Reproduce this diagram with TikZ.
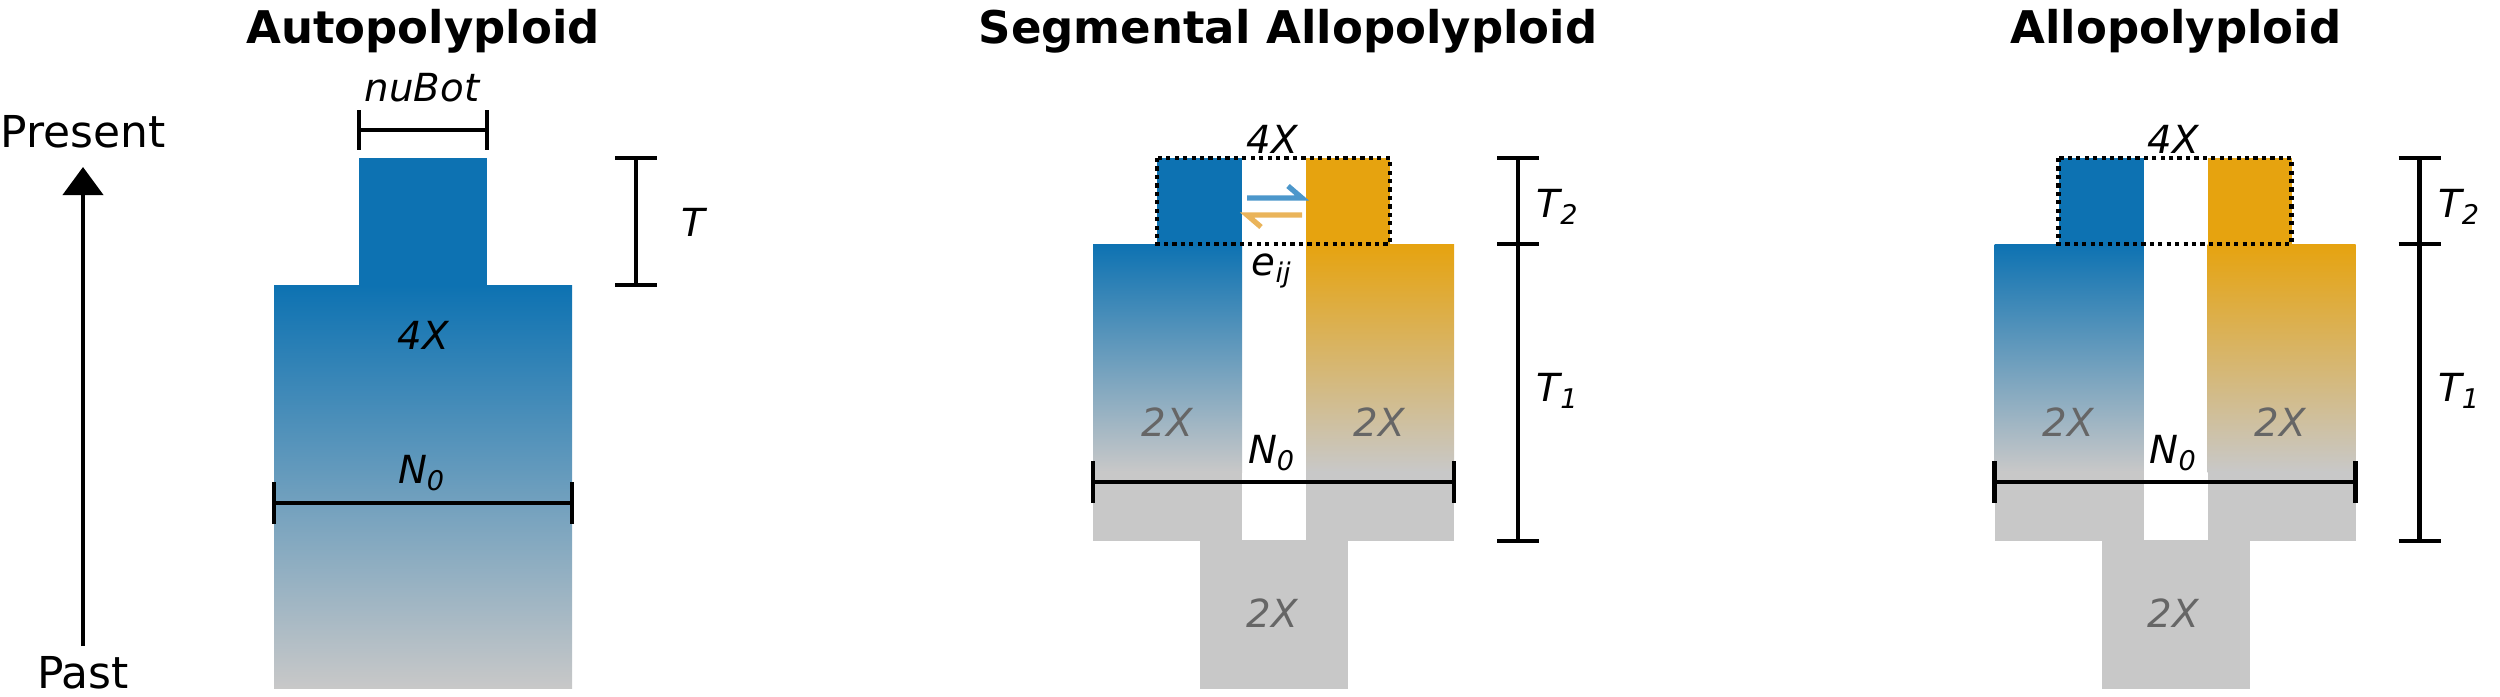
\documentclass[tikz,border=0pt]{standalone}
\usepackage{fontspec}
\setmainfont{DejaVu Sans}
\usetikzlibrary{arrows.meta}
\definecolor{cblue}{HTML}{0D72B2}
\definecolor{corange}{HTML}{E6A30F}
\definecolor{cgray}{HTML}{C8C8C8}
\definecolor{lgray}{HTML}{666666}
\definecolor{ablue}{HTML}{4C97CB}
\definecolor{aorange}{HTML}{EAB45A}
\newcommand{\mkhbar}[4]{%
  \draw[bar] (#1,#3) -- (#2,#3);
  \draw[bar] (#1,#3-#4) -- (#1,#3+#4);
  \draw[bar] (#2,#3-#4) -- (#2,#3+#4);}
\newcommand{\mkvbar}[4]{%
  \draw[bar] (#1,#2) -- (#1,#3);
  \draw[bar] (#1-#4,#2) -- (#1+#4,#2);
  \draw[bar] (#1-#4,#3) -- (#1+#4,#3);}
\newcommand{\allopanel}[1]{%
  % top 4X blocks
  \fill[cblue] (1157,158) rectangle (1242,245);
  \fill[corange] (1306,158) rectangle (1390,245);
  % big 2X blocks
  \shade[top color=cblue,bottom color=cgray] (1093,244) rectangle (1242,472);
  \fill[cgray] (1093,471) rectangle (1242,541);
  \shade[top color=corange,bottom color=cgray] (1306,244) rectangle (1454,472);
  \fill[cgray] (1306,471) rectangle (1454,541);
  % ancestral 2X
  \fill[cgray] (1200,540) rectangle (1348,689);
  \draw[dots] (1157,158) rectangle (1390,244);
  \node[lab] (#1top) at (1272,139) {4X};
  \node[glab] (#1left) at (1167,422) {2X};
  \node[glab] (#1right) at (1379,422) {2X};
  \node[lab] (#1N) at (1272,453) {N\textsubscript{0}};
  \node[glab] (#1anc) at (1272,613) {2X};
  \mkhbar{1093}{1454}{482}{21}
  \draw[bar] (1518,158) -- (1518,541);
  \draw[bar] (1497,158) -- (1539,158);
  \draw[bar] (1497,244) -- (1539,244);
  \draw[bar] (1497,541) -- (1539,541);
  \node[lab] (#1Ttwo) at (1558,207) {T\textsubscript{2}};
  \node[lab] (#1Tone) at (1558,391) {T\textsubscript{1}};
}
\begin{document}
\begin{tikzpicture}[x=0.01cm,y=-0.01cm,
  bar/.style={line width=1.2pt},
  lab/.style={font=\fontsize{11}{13}\selectfont\itshape, inner sep=0},
  glab/.style={lab, text=lgray},
  ttl/.style={font=\fontsize{12.8}{15}\selectfont\bfseries, inner sep=0, anchor=base},
  tim/.style={font=\fontsize{12.5}{15}\selectfont, inner sep=0, anchor=base},
  dots/.style={line width=1.3pt, dash pattern=on 1.2pt off 1.2pt},
  harp/.style={line width=1.5pt, line join=miter},
]
\useasboundingbox (0,0) rectangle (2500,697);

% titles
\node[ttl] (t1) at (423,43) {Autopolyploid};
\node[ttl] (t2) at (1288,43) {Segmental Allopolyploid};
\node[ttl] (t3) at (2176,43) {Allopolyploid};

% time axis
\node[tim] (present) at (83,147) {Present};
\node[tim] (past) at (83,688) {Past};
\coordinate (axbot) at (83,646);
\coordinate (axtop) at (83,167);
\draw[line width=1.2pt,-{Triangle[width=0.4cm,length=0.28cm]}] (axbot) -- (axtop);

% Autopolyploid
\fill[cblue] (359,158) rectangle (487,286);
\shade[top color=cblue,bottom color=cgray] (274,285) rectangle (572,688);
\node[lab] (nubot) at (422,88) {nuBot};
\mkhbar{359}{487}{130}{20}
\node[lab] (a4x) at (423,335) {4X};
\node[lab] (aN) at (422,473) {N\textsubscript{0}};
\mkhbar{274}{572}{503}{21}
\mkvbar{636}{158}{285}{21}
\node[lab] (aT) at (693,222) {T};

% Segmental allopolyploid
\allopanel{s}
\node[lab] (eij) at (1272,271) {e\textsubscript{ij}};
\draw[harp, ablue] (1247,198) -- (1302,198) -- (1288,186);
\draw[harp, aorange] (1302,215) -- (1247,215) -- (1261,227);

% Allopolyploid
\begin{scope}[xshift=9.01cm]
\allopanel{p}
\end{scope}
\end{tikzpicture}
\end{document}
